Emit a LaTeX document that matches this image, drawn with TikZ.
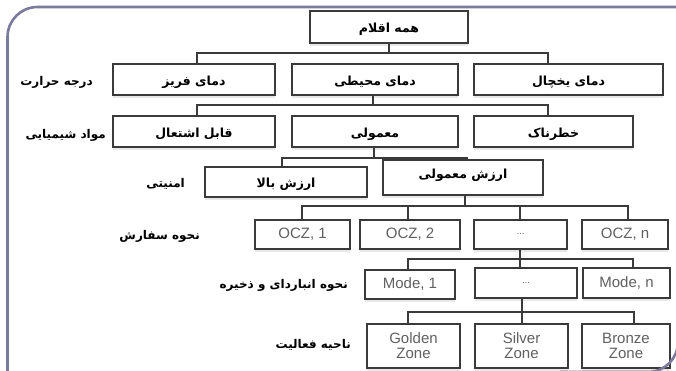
\documentclass[tikz,border=0pt]{standalone}
\usepackage{fontspec}
\usetikzlibrary{shadows}
\setmainfont{Liberation Sans}
\newfontfamily\fa[Script=Arabic]{DejaVu Sans}
\TeXXeTstate=1
\definecolor{framecol}{HTML}{7A7A9C}
\definecolor{boxline}{HTML}{3A3A3A}
\definecolor{lattext}{HTML}{606060}
\tikzset{
  box/.style={draw=boxline, line width=1.1pt, rectangle, inner sep=0pt, fill=white,
    drop shadow={opacity=0.18, shadow xshift=0pt, shadow yshift=-3pt}},
  fabox/.style={box, font=\fa\bfseries\fontsize{12.5}{14}\selectfont, text height=12pt, text depth=0pt},
  labox/.style={box, font=\fontsize{15}{15}\selectfont, text=lattext, align=center},
  lbl/.style={anchor=east, inner sep=0pt, font=\fa\bfseries\fontsize{12}{14}\selectfont},
  conn/.style={draw=boxline, line width=1.1pt},
  framestyle/.style={draw=framecol, line width=2.6pt, rounded corners=30pt}
}
\newcommand{\fat}[1]{\beginR #1\endR}
\begin{document}
\begin{tikzpicture}[x=1pt,y=-1pt]
\useasboundingbox (0,0) rectangle (676,371);
\clip (0,0) rectangle (676,371);
\fill[white] (0,0) rectangle (676,371);

% top
\node[fabox, minimum width=158, minimum height=32] (top) at (389,27) {\fat{همه اقلام}};
% row 1
\node[fabox, minimum width=162, minimum height=31] (a1) at (194,79.5) {\fat{دمای فریز}};
\node[fabox, minimum width=166, minimum height=31] (a2) at (375,79.5) {\fat{دمای محیطی}};
\node[fabox, minimum width=189, minimum height=31] (a3) at (568.5,79.5) {\fat{دمای یخچال}};
% row 2
\node[fabox, minimum width=162, minimum height=31] (b1) at (194,131.5) {\fat{قابل اشتعال}};
\node[fabox, minimum width=166, minimum height=31] (b2) at (375,131.5) {\fat{معمولی}};
\node[fabox, minimum width=159, minimum height=31] (b3) at (553.5,131.5) {\fat{خطرناک}};
% row 3
\node[fabox, minimum width=162, minimum height=30] (c1) at (286,182) {\fat{ارزش بالا}};
\node[fabox, minimum width=160, minimum height=35, text depth=9pt] (c2) at (463,177.5) {\fat{ارزش معمولی}};
% row 4
\node[labox, minimum width=95, minimum height=29] (d1) at (302.5,234.5) {OCZ, 1};
\node[labox, minimum width=100, minimum height=29] (d2) at (410,234.5) {OCZ, 2};
\node[labox, minimum width=93, minimum height=29] (d3) at (520.5,234.5) {\fontsize{9}{10}\selectfont ...};
\node[labox, minimum width=86, minimum height=29] (d4) at (625,234.5) {OCZ, n};
% row 5
\node[labox, minimum width=90, minimum height=29] (e1) at (410,284.5) {Mode, 1};
\node[labox, minimum width=102, minimum height=30] (e2) at (526,283) {\fontsize{9}{10}\selectfont ...};
\node[labox, minimum width=87, minimum height=30] (e3) at (626.5,283) {Mode, n};
% row 6
\node[labox, minimum width=93, minimum height=44] (f1) at (413.5,346) {Golden\\Zone};
\node[labox, minimum width=93, minimum height=44] (f2) at (521.5,346) {Silver\\Zone};
\node[labox, minimum width=88, minimum height=44] (f3) at (626,346) {Bronze\\Zone};

% left labels
\node[lbl] (l1) at (93,82) {\fat{درجه حرارت}};
\node[lbl] (l2) at (106,135) {\fat{مواد شیمیایی}};
\node[lbl] (l3) at (185,184) {\fat{امنیتی}};
\node[lbl] (l4) at (200,236) {\fat{نحوه سفارش}};
\node[lbl] (l5) at (348,285) {\fat{نحوه انباردای و ذخیره}};
\node[lbl] (l6) at (351,345) {\fat{ناحیه فعالیت}};

% connectors
\coordinate (p0) at (389,53);
\coordinate (p1) at (197,53);
\coordinate (p3) at (548,53);
\draw[conn] (top.south -| p0) -- (p0);
\draw[conn] (p1 |- a1.north) -- (p1) -- (p3) -- (p3 |- a3.north);

\coordinate (q0) at (373,105);
\coordinate (q1) at (197,105);
\coordinate (q3) at (548,105);
\draw[conn] (a2.south -| q0) -- (q0);
\draw[conn] (q1 |- b1.north) -- (q1) -- (q3) -- (q3 |- b3.north);

\coordinate (r0) at (374,158);
\coordinate (r1) at (282,158);
\coordinate (r2) at (467,158);
\draw[conn] (b2.south -| r0) -- (r0);
\draw[conn] (r1 |- c1.north) -- (r1) -- (r2) -- (r2 |- c2.north);

\coordinate (s0) at (465,206);
\coordinate (s1) at (302,206);
\coordinate (s2) at (408,206);
\coordinate (s3) at (520,206);
\coordinate (s4) at (628,206);
\draw[conn] (c2.south -| s0) -- (s0);
\draw[conn] (s1 |- d1.north) -- (s1) -- (s4) -- (s4 |- d4.north);
\draw[conn] (s2) -- (s2 |- d2.north);
\draw[conn] (s3) -- (s3 |- d3.north);

\coordinate (t1) at (408,259);
\coordinate (t2) at (520,259);
\coordinate (t3) at (633,259);
\draw[conn] (d3.south -| t2) -- (t2 |- e2.north);
\draw[conn] (t1 |- e1.north) -- (t1) -- (t3) -- (t3 |- e3.north);

\coordinate (u1) at (408,312);
\coordinate (u2) at (522,312);
\coordinate (u3) at (634,312);
\draw[conn] (e2.south -| u2) -- (u2 |- f2.north);
\draw[conn] (u1 |- f1.north) -- (u1) -- (u3) -- (u3 |- f3.north);

% frame (drawn last, on top)
\draw[framestyle] (7.5,400) -- (7.5,7) -- (720,7);
\draw[framestyle] (678,250) -- (678,372) -- (560,372);
\end{tikzpicture}
\end{document}
